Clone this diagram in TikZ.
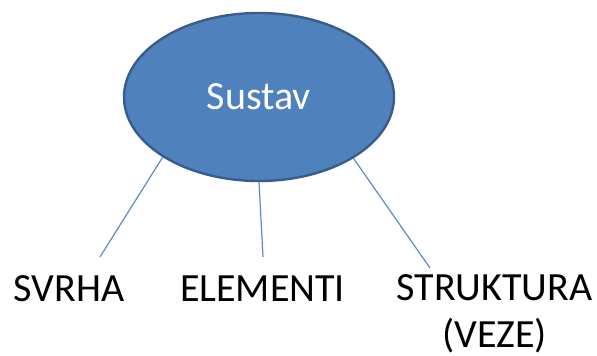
\documentclass[tikz,border=0pt]{standalone}
\usepackage{fontspec}
\setmainfont{Carlito}
\usetikzlibrary{shapes.geometric}
\definecolor{accfill}{HTML}{4F81BD}
\definecolor{accline}{HTML}{385D8A}
\definecolor{conn}{HTML}{5B8BC6}
\tikzset{
  sysnode/.style={ellipse, draw=accline, fill=accfill, line width=2.4pt, minimum width=270pt, minimum height=168pt, inner sep=0pt, text=white, font=\fontsize{40}{47}\selectfont},
  label/.style={anchor=base, inner sep=0pt, align=center, text=black, font=\fontsize{40}{47}\selectfont},
  conn/.style={draw=conn, line width=1.2pt}
}
\begin{document}
\begin{tikzpicture}[x=1pt,y=1pt]
\useasboundingbox (0,0) rectangle (597,356);
\node[sysnode] (sys) at (259,259) {Sustav};
\node[label] (svrha) at (69,54) {SVRHA};
\node[label] (elem) at (262.5,54) {ELEMENTI};
\node[label] (str) at (494.5,9) {STRUKTURA\\(VEZE)};
\coordinate (e1) at (100,99);
\coordinate (e2) at (263,99);
\coordinate (e3) at (430,88);
\draw[conn] (sys.212) -- (e1);
\draw[conn] (sys.270.5) -- (e2);
\draw[conn] (sys.327.5) -- (e3);
\end{tikzpicture}
\end{document}
